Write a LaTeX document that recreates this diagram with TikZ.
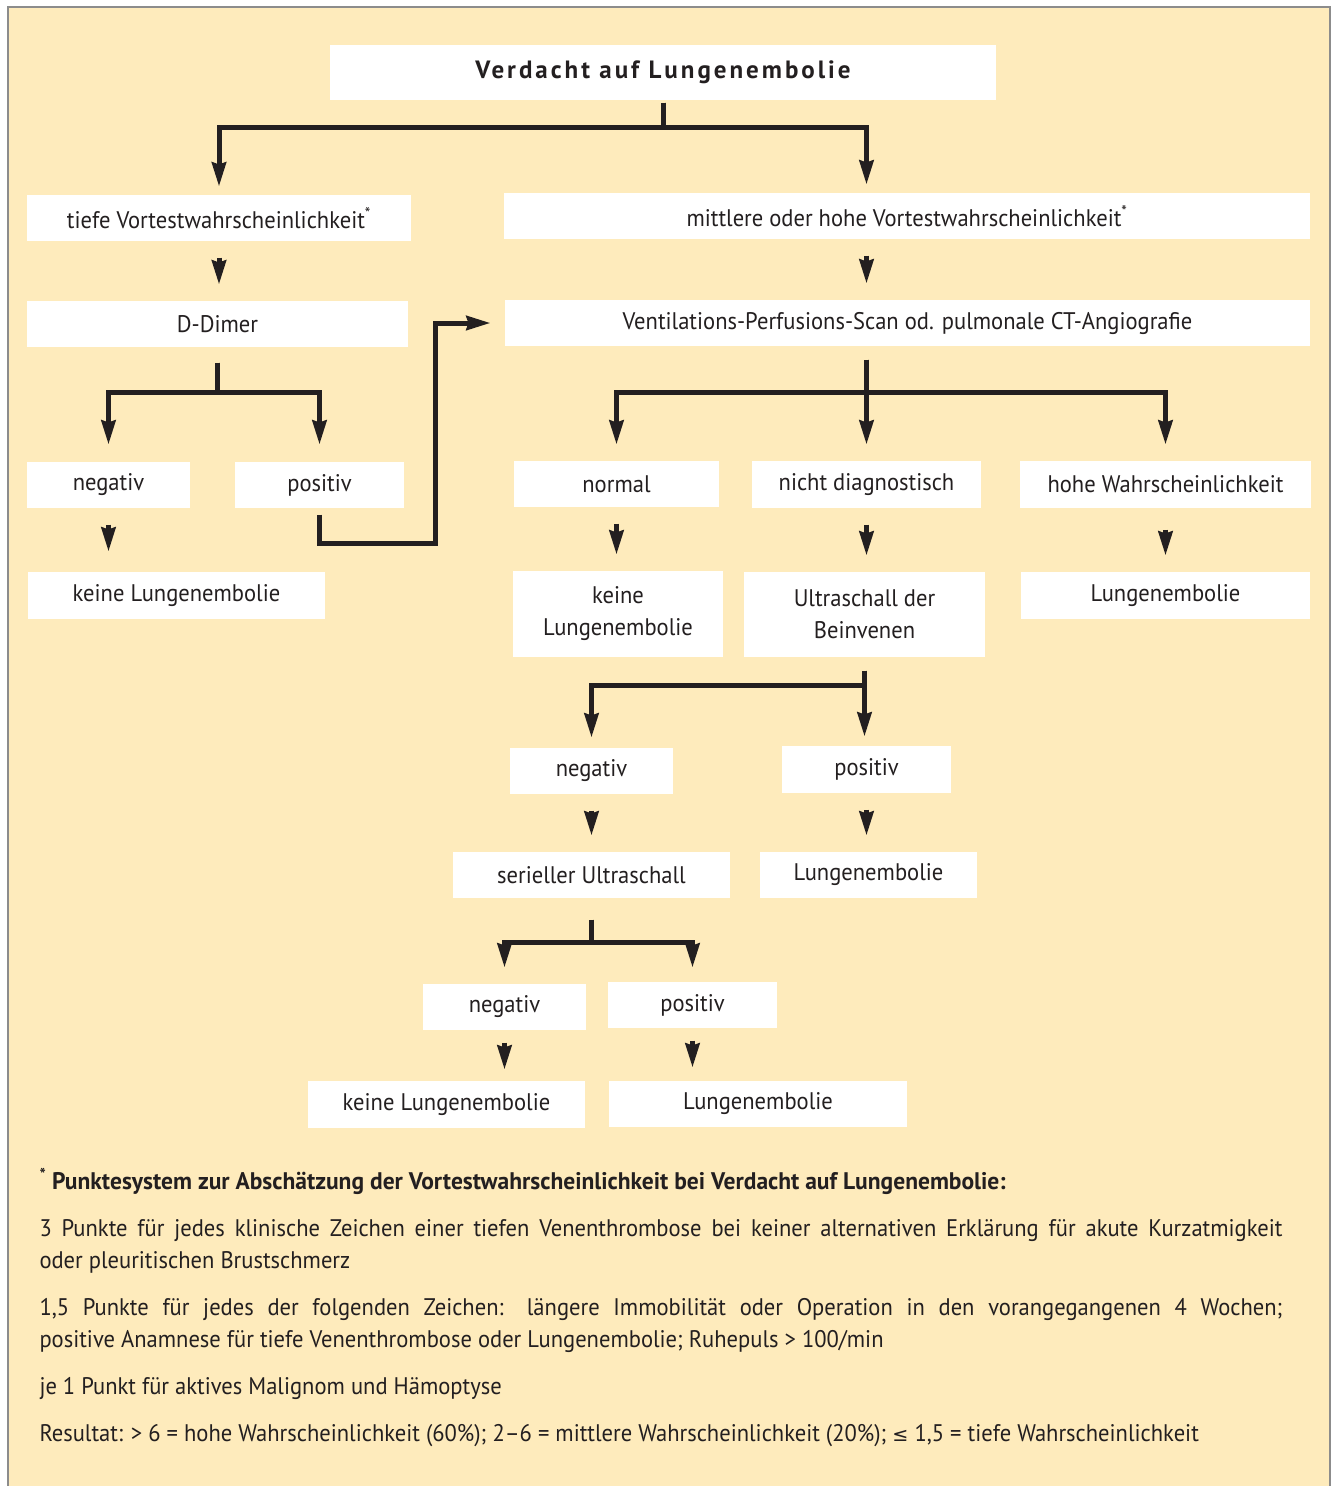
\documentclass[tikz,border=0pt]{standalone}
\usepackage{fontspec}
\setmainfont{PT Sans}[FakeStretch=0.94,BoldFeatures={FakeStretch=0.98}]
\newfontfamily\titlefont{PT Sans}[LetterSpace=12]
\newfontfamily\symfont{DejaVu Sans}[Scale=0.8]
\usetikzlibrary{arrows.meta}

\definecolor{bgyellow}{RGB}{254,235,188}
\definecolor{ink}{RGB}{35,31,32}
\definecolor{framegray}{RGB}{140,140,140}

\begin{document}
\begin{tikzpicture}[x=1pt,y=-1pt,->,>={Stealth[length=24pt,width=14pt,inset=2pt]},
                    line width=5pt,color=ink,
                    font=\fontsize{24}{32}\selectfont]
  \tikzstyle{box}=[fill=white,inner sep=0pt,minimum height=46pt,align=center]
  \tikzstyle{gap}=[shorten <=14pt,shorten >=14pt]

  \useasboundingbox (0,0) rectangle (1334,1486);
  \fill[white] (0,0) rectangle (1334,1486);
  \fill[bgyellow] (8,7) rectangle (1330,1486);
  \draw[-,framegray,line width=2pt] (8,1490) -- (8,7) -- (1330,7) -- (1330,1490);

  % first level
  \node[box,minimum width=666pt,minimum height=55pt,
        font=\titlefont\bfseries\fontsize{25}{28}\selectfont]
                                        (verdacht) at (663,72.5)  {Verdacht auf Lungenembolie};
  \node[box,minimum width=384pt] (tief)    at (219,218)    {tiefe Vortestwahrscheinlichkeit\textsuperscript{*}};
  \node[box,minimum width=806pt] (mittel)  at (907,216)    {mittlere oder hohe Vortestwahrscheinlichkeit\textsuperscript{*}};
  \node[box,minimum width=381pt] (ddimer)  at (217.5,324)  {D-Dimer};
  \node[box,minimum width=805pt] (vps)     at (907.5,323)  {Ventilations-Perfusions-Scan od. pulmonale CT-Angiografie};

  % D-Dimer branch
  \node[box,minimum width=163pt] (dneg)    at (108.5,485)  {negativ};
  \node[box,minimum width=169pt] (dpos)    at (319.5,485)  {positiv};
  \node[box,minimum width=297pt,minimum height=47pt]
                                 (dkeine)  at (176.5,595.5) {keine Lungenembolie};

  % scan branch
  \node[box,minimum width=205pt] (normal)  at (616.5,484)  {normal};
  \node[box,minimum width=229pt,minimum height=47pt]
                                 (nichtd)  at (866.5,484.5) {nicht diagnostisch};
  \node[box,minimum width=291pt,minimum height=47pt]
                                 (hohe)    at (1165.5,484.5) {hohe Wahrscheinlichkeit};
  \node[box,minimum width=210pt,minimum height=86pt]
                                 (vkeine)  at (618,614)    {keine\\Lungenembolie};
  \node[box,minimum width=241pt,minimum height=85pt]
                                 (usbein)  at (864.5,614.5) {Ultraschall der\\Beinvenen};
  \node[box,minimum width=289pt,minimum height=47pt]
                                 (vle)     at (1165.5,595.5) {Lungenembolie};

  % ultrasound branch
  \node[box,minimum width=163pt] (uneg)    at (591.5,771)  {negativ};
  \node[box,minimum width=169pt,minimum height=47pt]
                                 (upos)    at (866.5,769.5) {positiv};
  \node[box,minimum width=277pt] (seriell) at (591.5,875)  {serieller Ultraschall};
  \node[box,minimum width=217pt] (ule)     at (868.5,875)  {Lungenembolie};

  % serial ultrasound branch
  \node[box,minimum width=163pt] (sneg)    at (504.5,1007) {negativ};
  \node[box,minimum width=169pt] (spos)    at (692.5,1005) {positiv};
  \node[box,minimum width=277pt,minimum height=47pt]
                                 (skeine)  at (446.5,1104.5) {keine Lungenembolie};
  \node[box,minimum width=298pt] (sle)     at (758,1104)   {Lungenembolie};

  % connectors
  \draw[shorten >=6pt] (verdacht.south) -- ++(0,25) -| (tief.north);
  \draw[shorten >=6pt] (verdacht.south) -- ++(0,25) -| (nichtd.north |- mittel.north);
  \draw[gap] (tief.south) -- (tief.south |- ddimer.north);
  \draw[gap] (nichtd.north |- mittel.south) -- (nichtd.north |- vps.north);

  \draw[shorten <=13pt,shorten >=15pt] (ddimer.south) -- ++(0,43) -| (dneg.north);
  \draw[shorten <=13pt,shorten >=15pt] (ddimer.south) -- ++(0,43) -| (dpos.north);
  \draw[shorten <=4pt,shorten >=12pt] (dpos.south) -- ++(0,33) -| ([xshift=-67pt]vps.west) -- (vps.west);
  \draw[shorten <=14pt,shorten >=18pt] (dneg.south) -- (dneg.south |- dkeine.north);

  \draw[shorten <=11pt,shorten >=14pt] (nichtd.north |- vps.south) -- (nichtd.north);
  \draw[shorten <=11pt,shorten >=14pt] (nichtd.north |- vps.south) -- ++(0,44) -| (normal.north);
  \draw[shorten <=11pt,shorten >=14pt] (nichtd.north |- vps.south) -- ++(0,44) -| (hohe.north);
  \draw[gap] (normal.south) -- (normal.south |- vkeine.north);
  \draw[gap] (nichtd.south) -- (nichtd.south |- usbein.north);
  \draw[shorten <=19pt,shorten >=14pt] (hohe.south) -- (hohe.south |- vle.north);

  \draw[shorten <=11pt,shorten >=7pt] (usbein.south) -- (usbein.south |- upos.north);
  \draw[shorten <=11pt,shorten >=8pt] (usbein.south) -- ++(0,26) -| (uneg.north);
  \draw[gap] (uneg.south) -- (uneg.south |- seriell.north);
  \draw[gap] (upos.south) -- (upos.south |- ule.north);

  \draw[shorten <=19pt,shorten >=14pt] (seriell.south) -- ++(0,42) -| (sneg.north);
  \draw[shorten <=19pt,shorten >=12pt] (seriell.south) -- ++(0,42) -| (spos.north);
  \draw[shorten <=10pt,shorten >=9pt] (sneg.south) -- (sneg.south |- skeine.north);
  \draw[shorten <=10pt,shorten >=11pt] (spos.south) -- (spos.south |- sle.north);

  % footnote
  \node[anchor=north west,inner sep=0pt,text width=1243pt,align=justify] (fussnote) at (37,1166)
    {\setlength{\parskip}{15pt}%
     \textbf{\textsuperscript{*} Punktesystem zur Absch\"atzung der Vortestwahrscheinlichkeit bei Verdacht auf Lungenembolie:}\par
     3 Punkte f\"ur jedes klinische Zeichen einer tiefen Venenthrombose bei keiner alternativen Erkl\"arung f\"ur akute Kurzatmigkeit\linebreak
     oder pleuritischen Brustschmerz\par
     1,5 Punkte f\"ur jedes der folgenden Zeichen: l\"angere Immobilit\"at oder Operation in den vorangegangenen 4 Wochen;\linebreak
     positive Anamnese f\"ur tiefe Venenthrombose oder Lungenembolie; Ruhepuls > 100/min\par
     je 1 Punkt f\"ur aktives Malignom und H\"amoptyse\par
     Resultat: > 6 = hohe Wahrscheinlichkeit (60\%); 2--6 = mittlere Wahrscheinlichkeit (20\%); {\symfont ≤} 1,5 = tiefe Wahrscheinlichkeit};
\end{tikzpicture}
\end{document}
